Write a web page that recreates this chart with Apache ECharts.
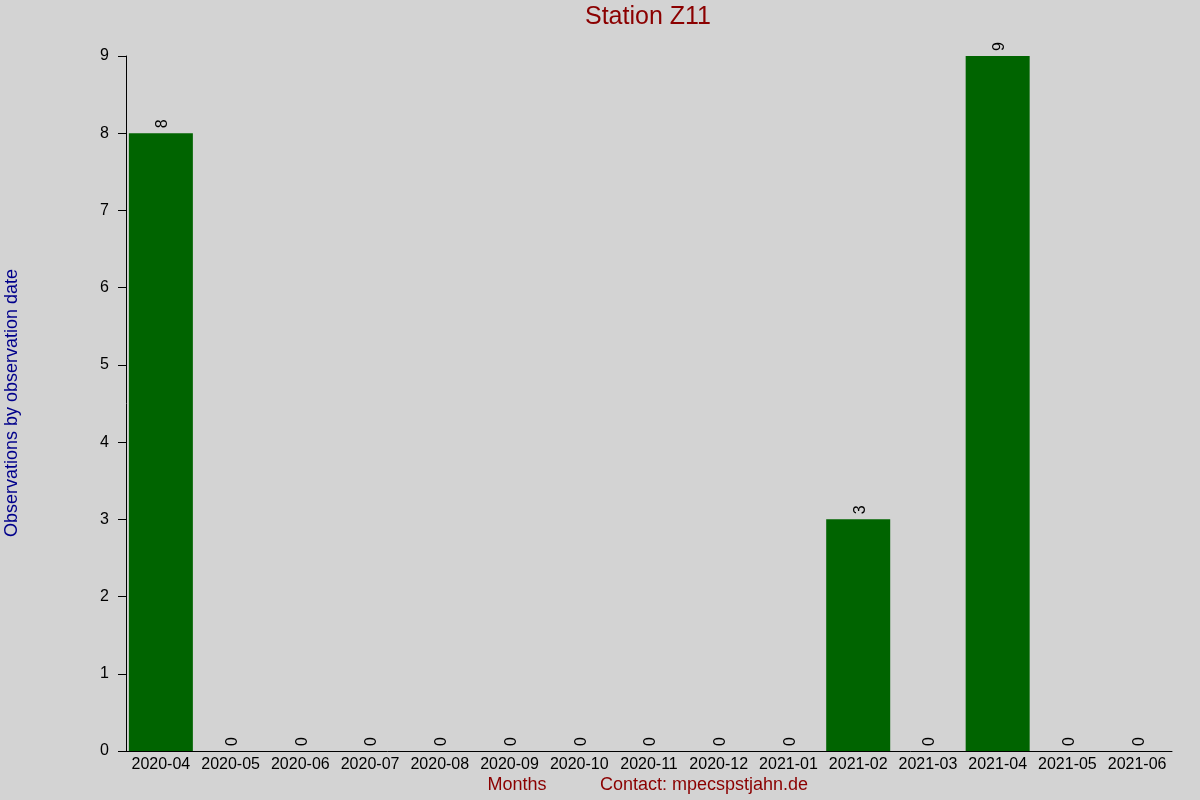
<!DOCTYPE html>
<html>
<head>
<meta charset="utf-8">
<script src="https://cdn.jsdelivr.net/npm/echarts@6/dist/echarts.min.js"></script>
<style>html,body{margin:0;padding:0;background:#d3d3d3;}#c{width:1200px;height:800px;}</style>
</head>
<body>
<div id="c"></div>
<script>
const months = ['2020-04','2020-05','2020-06','2020-07','2020-08','2020-09','2020-10','2020-11','2020-12','2021-01','2021-02','2021-03','2021-04','2021-05','2021-06'];
const observations = [8,0,0,0,0,0,0,0,0,0,3,0,9,0,0];
const yTicks = {min:0, max:9, interval:1};
const titleText = 'Station Z11';
const yName = 'Observations by observation date';
const xName = 'Months';
const contactText = 'Contact: mpecspstjahn.de';

const chart = echarts.init(document.getElementById('c'));
const font = '"Liberation Sans", Arial, sans-serif';
chart.setOption({
  backgroundColor: '#d3d3d3',
  animation: false,
  textStyle: {fontFamily: font},
  grid: {left: 126, right: 28, top: 56, bottom: 49, containLabel: false},
  graphic: [
    {type:'text', x:648, y:17, style:{text:titleText, fill:'#8b0000', font:'25px ' + font, textAlign:'center', textVerticalAlign:'middle'}},
    {type:'text', x:12, y:403, rotation:Math.PI/2, style:{text:yName, fill:'#00008b', font:'18px ' + font, textAlign:'center', textVerticalAlign:'middle'}},
    {type:'text', x:517, y:785, style:{text:xName, fill:'#8b0000', font:'18px ' + font, textAlign:'center', textVerticalAlign:'middle'}},
    {type:'text', x:704, y:785, style:{text:contactText, fill:'#8b0000', font:'18px ' + font, textAlign:'center', textVerticalAlign:'middle'}}
  ],
  xAxis: {
    type: 'category',
    data: months,
    axisLine: {lineStyle: {color: '#000', width: 1}},
    axisTick: {show: false},
    axisLabel: {color: '#000', fontSize: 16, margin: 6, interval: 0, fontFamily: font},
    splitLine: {show: false}
  },
  yAxis: {
    type: 'value',
    min: yTicks.min, max: yTicks.max, interval: yTicks.interval,
    axisLine: {show: true, lineStyle: {color: '#000', width: 1}},
    axisTick: {show: true, length: 8, lineStyle: {color: '#000'}},
    axisLabel: {color: '#000', fontSize: 16, margin: 17, fontFamily: font},
    splitLine: {show: false}
  },
  series: [{
    type: 'bar',
    data: observations,
    barWidth: 64,
    itemStyle: {color: '#006400'},
    label: {
      show: true, position: 'top', rotate: 90, distance: 5, offset: [0, 2],
      align: 'left', verticalAlign: 'middle',
      color: '#000', fontSize: 16, fontFamily: font
    }
  }]
});
</script>
</body>
</html>
